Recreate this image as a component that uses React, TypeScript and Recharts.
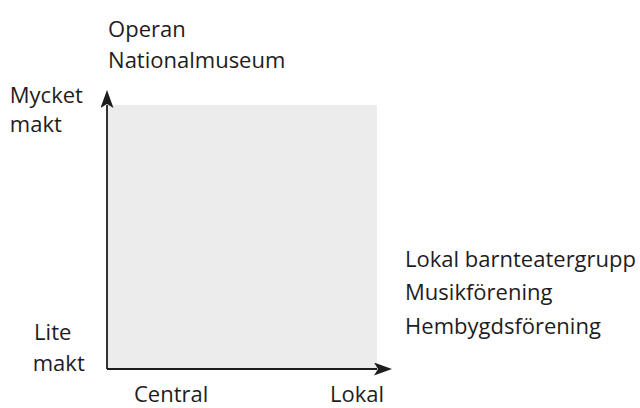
import React from 'react'
import { ComposedChart, XAxis, YAxis, ReferenceArea, ReferenceDot, ReferenceLine } from 'recharts'

// x: 0 = central, 1 = lokal; y: 0 = lite makt, 1 = mycket makt
const orgNames = ['Operan', 'Nationalmuseum', 'Lokal barnteatergrupp', 'Musikförening', 'Hembygdsförening']
const orgX = [0.004, 0.004, 1.104, 1.104, 1.104]
const orgY = [1.256, 1.14, 0.386, 0.261, 0.133]

const axisLabelNames = ['Mycket', 'makt', 'Lite', 'makt', 'Central', 'Lokal']
const axisLabelX = [-0.36, -0.36, -0.27, -0.275, 0.1, 0.826]
const axisLabelY = [1.006, 0.896, 0.11, -0.006, -0.125, -0.125]

const INK = '#1f1c1d'
const FONT = '"Open Sans", sans-serif'

const labels = [
  ...orgNames.map((text, i) => ({ text, x: orgX[i], y: orgY[i] })),
  ...axisLabelNames.map((text, i) => ({ text, x: axisLabelX[i], y: axisLabelY[i] }))
]

const textShape = (text: string) => (p: any) => (
  <text x={p.cx} y={p.cy} fill={INK} fontSize={22} fontFamily={FONT} textAnchor="start">
    {text}
  </text>
)

export default function App() {
  return (
    <div style={{ position: 'absolute', left: 0, top: 0, width: 640, height: 408, background: '#fff' }}>
      <ComposedChart width={640} height={408} data={labels} margin={{ top: 105, right: 263, bottom: 39, left: 107 }}>
        <defs>
          <marker
            id="arrowHead"
            viewBox="0 0 18 13"
            refX={3}
            refY={6.5}
            markerWidth={18}
            markerHeight={13}
            markerUnits="userSpaceOnUse"
            orient="auto"
          >
            <path d="M0,0 L18,6.5 L0,13 L4,6.5 Z" fill={INK} />
          </marker>
        </defs>
        <XAxis type="number" dataKey="x" domain={[0, 1]} allowDataOverflow hide />
        <YAxis type="number" dataKey="y" domain={[0, 1]} allowDataOverflow hide />
        <ReferenceArea x1={0} x2={1} y1={0} y2={1} fill="#ececec" fillOpacity={1} stroke="none" ifOverflow="visible" />
        <ReferenceLine
          segment={[{ x: 0, y: 0 }, { x: 1, y: 0 }]}
          stroke={INK}
          strokeWidth={1.8}
          ifOverflow="visible"
          markerEnd="url(#arrowHead)"
        />
        <ReferenceLine
          segment={[{ x: 0, y: 0 }, { x: 0, y: 1 }]}
          stroke={INK}
          strokeWidth={1.8}
          ifOverflow="visible"
          markerEnd="url(#arrowHead)"
        />
        {labels.map((l, i) => (
          <ReferenceDot key={i} x={l.x} y={l.y} r={0} ifOverflow="visible" shape={textShape(l.text)} />
        ))}
      </ComposedChart>
    </div>
  )
}
